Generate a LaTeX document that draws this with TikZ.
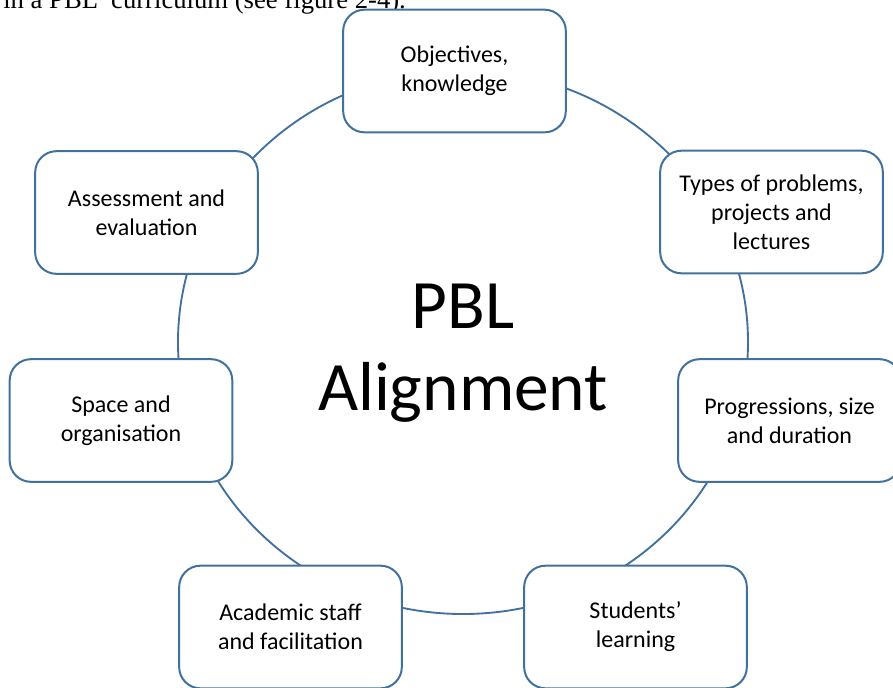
\documentclass[tikz,border=0pt]{standalone}
\usepackage{fontspec}
\setmainfont{Carlito}
\newfontfamily\runfont{Liberation Serif}
\definecolor{boxline}{RGB}{65,113,156}
\begin{document}
\begin{tikzpicture}[x=0.75pt,y=0.75pt,yscale=-1,xscale=1,
  item/.style={draw=boxline,line width=1.5pt,rounded corners=16pt,fill=white,
    minimum width=167pt,minimum height=92pt,inner sep=0pt,align=center,
    font=\fontsize{18}{21.75}\selectfont},
  ring/.style={draw=boxline,line width=1.4pt}]
\useasboundingbox (0,0) rectangle (893,687);
\begin{scope}
\clip (0,0) rectangle (893,687);

% Text Node (running text of the page, cut off)
\node [anchor=base west,inner sep=0pt,font=\runfont\fontsize{20}{24}\selectfont] (runline) at (3,8) {in a PBL’ curriculum (see figure 2-4).};

% Cycle
\coordinate (hub) at (463,342);
\draw [ring] (hub) ellipse [x radius=285, y radius=272];

% Boxes
\node [item] (obj) at (454.5,71) {Objectives,\\knowledge};
\node [item] (types) at (771.5,212) {Types of problems,\\projects and\\lectures};
\node [item] (prog) at (789.5,420.5) {Progressions, size\\and duration};
\node [item] (stud) at (635.5,627) {Students’\\learning};
\node [item] (acad) at (290.5,627) {Academic staff\\and facilitation};
\node [item] (space) at (121,420.5) {Space and\\organisation};
\node [item] (assess) at (146.5,212.5) {Assessment and\\evaluation};

% Text Node
\node [inner sep=0pt,align=center,font=\fontsize{52}{61.5}\selectfont] (title) at (463,353) {PBL\\Alignment};
\end{scope}
\end{tikzpicture}
\end{document}
